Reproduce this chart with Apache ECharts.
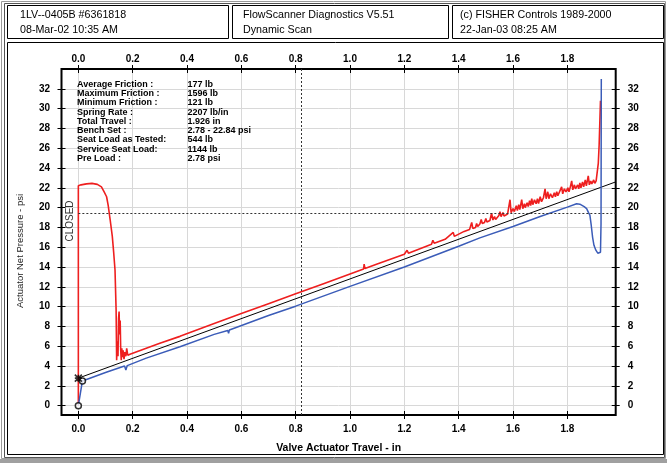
<!DOCTYPE html>
<html><head><meta charset="utf-8">
<script src="https://cdn.jsdelivr.net/npm/echarts@6/dist/echarts.min.js"></script>
<style>html,body{margin:0;padding:0;background:#fff}#c{width:667px;height:465px}</style>
</head><body><div id="c"></div>
<script>
// ---------- data ----------
const headerLeft = ['1LV--0405B #6361818', '08-Mar-02 10:35 AM'];
const headerMid = ['FlowScanner Diagnostics V5.51', 'Dynamic Scan'];
const headerRight = ['(c) FISHER Controls 1989-2000', '22-Jan-03 08:25 AM'];

const infoLabels = ['Average Friction :', 'Maximum Friction :', 'Minimum Friction :', 'Spring Rate :', 'Total Travel :', 'Bench Set :', 'Seat Load as Tested:', 'Service Seat Load:', 'Pre Load :'];
const infoValues = ['177 lb', '1596 lb', '121 lb', '2207 lb/in', '1.926 in', '2.78 - 22.84 psi', '544 lb', '1144 lb', '2.78 psi'];

const xTickValues = [0, 0.2, 0.4, 0.6, 0.8, 1.0, 1.2, 1.4, 1.6, 1.8];
const yTickValues = [0, 2, 4, 6, 8, 10, 12, 14, 16, 18, 20, 22, 24, 26, 28, 30, 32];

const xTitle = 'Valve Actuator Travel - in';
const yTitle = 'Actuator Net Pressure - psi';
const closedLabel = 'CLOSED';
const closedTravel = 0.816;
const closedPressure = 19.4;

// red trace (travel in, pressure psi)
const redTrace = [
  [0.000, 0.0], [0.000, 22.2], [0.010, 22.3], [0.030, 22.4], [0.050, 22.45], [0.070, 22.35], [0.085, 22.1],
  [0.095, 21.6], [0.104, 21.1], [0.110, 20.2], [0.117, 18.8], [0.125, 17.1], [0.130, 15.5], [0.135, 13.7],
  [0.139, 9.7], [0.141, 4.6], [0.143, 6.5], [0.146, 5.0], [0.148, 8.8], [0.150, 9.5], [0.152, 7.2],
  [0.154, 8.6], [0.156, 5.6], [0.158, 4.6], [0.160, 5.8], [0.162, 4.9], [0.165, 5.6], [0.168, 4.7],
  [0.171, 5.4], [0.175, 5.0], [0.178, 5.8], [0.182, 5.1], [0.190, 5.2], [0.196, 5.3],
  [0.300, 6.3], [0.374, 7.0], [0.500, 8.3], [0.600, 9.3], [0.700, 10.3], [0.800, 11.3], [0.900, 12.3],
  [1.000, 13.3], [1.050, 13.8], [1.052, 14.3], [1.055, 13.85], [1.100, 14.3], [1.200, 15.3], [1.210, 15.7],
  [1.215, 15.4], [1.300, 16.3], [1.305, 16.7], [1.310, 16.4], [1.350, 16.8], [1.380, 17.5], [1.384, 17.1],
  [1.420, 17.6], [1.440, 17.8], [1.448, 18.5], [1.452, 17.9], [1.462, 18.0], [1.466, 18.4], [1.470, 18.1],
  [1.478, 18.35], [1.483, 18.8], [1.487, 18.4], [1.495, 18.5], [1.500, 18.9], [1.504, 18.55], [1.510, 18.65],
  [1.515, 18.7], [1.521, 19.45], [1.526, 18.75], [1.532, 19.1], [1.536, 18.8], [1.540, 18.9], [1.548, 19.2],
  [1.552, 19.6], [1.556, 19.1], [1.563, 19.5], [1.567, 19.15], [1.574, 19.25], [1.580, 19.35], [1.585, 19.5],
  [1.589, 20.8], [1.593, 19.5], [1.600, 19.9], [1.605, 19.6], [1.612, 20.2], [1.616, 19.7], [1.621, 20.3],
  [1.625, 19.8], [1.632, 20.8], [1.636, 19.9], [1.642, 20.4], [1.645, 20.0], [1.652, 20.5], [1.656, 20.1],
  [1.661, 20.7], [1.665, 20.2], [1.669, 20.9], [1.673, 20.3], [1.679, 20.8], [1.685, 20.4], [1.690, 20.9],
  [1.694, 20.4], [1.700, 21.1], [1.705, 20.6], [1.712, 21.0], [1.718, 21.9], [1.722, 20.9], [1.728, 21.6],
  [1.732, 20.9], [1.738, 21.4], [1.745, 21.0], [1.752, 21.5], [1.756, 21.1], [1.761, 21.6], [1.765, 21.2],
  [1.772, 21.4], [1.779, 22.1], [1.783, 21.4], [1.789, 21.9], [1.795, 21.6], [1.802, 22.0], [1.806, 21.6],
  [1.811, 22.1], [1.816, 22.7], [1.820, 21.8], [1.826, 22.3], [1.830, 21.9], [1.838, 22.3], [1.842, 21.9],
  [1.846, 22.5], [1.850, 22.0], [1.856, 22.6], [1.860, 22.1], [1.866, 22.8], [1.870, 22.2], [1.877, 23.2],
  [1.881, 22.3], [1.886, 22.7], [1.890, 22.4], [1.897, 22.8], [1.901, 22.45], [1.906, 22.7], [1.912, 22.6],
  [1.914, 24.5], [1.917, 26.3], [1.921, 26.3], [1.922, 30.8]
];

// blue trace
const blueTrace = [
  [0.000, 0.0], [0.015, 2.5], [0.100, 3.35], [0.170, 4.0], [0.175, 3.6], [0.180, 4.05], [0.250, 4.8],
  [0.374, 5.96], [0.500, 7.2], [0.550, 7.6], [0.553, 7.3], [0.556, 7.65], [0.700, 9.1], [0.800, 10.05],
  [1.000, 12.05], [1.200, 14.0], [1.400, 16.1], [1.478, 16.95], [1.600, 18.1], [1.700, 19.1], [1.800, 20.05],
  [1.834, 20.4], [1.846, 20.35], [1.853, 20.26], [1.862, 20.1], [1.871, 19.9], [1.878, 19.5], [1.883, 19.25],
  [1.888, 18.2], [1.893, 17.0], [1.898, 16.2], [1.905, 15.7], [1.912, 15.4], [1.918, 15.3], [1.922, 15.5],
  [1.924, 18.4], [1.925, 33.0]
];

// bench-set reference line
const benchLine = [[0.0, 2.78], [1.978, 22.6]];
const startMarkers = [[0.0, 0.0], [0.015, 2.5]];
const preloadMarker = [[0.0, 2.78]];

// ---------- layout ----------
const XMIN = -0.062, XMAX = 1.978, YMIN = -0.94, YMAX = 34.0;
const FONT = 'Liberation Sans';
const RED = '#ee1f1f', BLUE = '#3b5cb8';

const axisFont = { fontFamily: FONT, fontSize: 10, fontWeight: 'bold', color: '#000' };

function xAx(pos, margin, extra) {
  return Object.assign({
    type: 'value', position: pos, min: XMIN, max: XMAX, offset: -4,
    axisLine: { show: true, onZero: false, lineStyle: { color: 'rgba(0,0,0,0)' } },
    axisTick: { show: true, customValues: xTickValues, length: 8, inside: false, lineStyle: { color: '#000', width: 1 } },
    axisLabel: Object.assign({ show: true, customValues: xTickValues, margin: margin, formatter: v => v.toFixed(1) }, axisFont),
    splitLine: { show: false }
  }, extra || {});
}
function yAx(pos, margin, extra) {
  return Object.assign({
    type: 'value', position: pos, min: YMIN, max: YMAX, offset: -4,
    axisLine: { show: true, onZero: false, lineStyle: { color: 'rgba(0,0,0,0)' } },
    axisTick: { show: true, customValues: yTickValues, length: 8, inside: false, lineStyle: { color: '#000', width: 1 } },
    axisLabel: Object.assign({ show: true, customValues: yTickValues, margin: margin, formatter: v => String(v) }, axisFont),
    splitLine: { show: false }
  }, extra || {});
}

const chart = echarts.init(document.getElementById('c'), null, { renderer: 'canvas' });

const hdrStyle = (t) => ({ text: t.join('\n'), fontFamily: FONT, fontSize: 10.7, fill: '#000', lineHeight: 15, verticalAlign: 'top', align: 'left' });

chart.setOption({
  animation: false,
  backgroundColor: '#fff',
  grid: { left: 61.5, right: 51.3, top: 69, bottom: 50, show: true, borderColor: '#000', borderWidth: 2, backgroundColor: 'rgba(0,0,0,0)', z: 5 },
  xAxis: [
    xAx('bottom', 13, {
      splitLine: { show: true, lineStyle: { color: '#d8d8d8', width: 1 } },
      name: xTitle, nameLocation: 'middle', nameGap: 32,
      nameTextStyle: { fontFamily: FONT, fontSize: 10.5, fontWeight: 'bold', color: '#000' }
    }),
    xAx('top', 9)
  ],
  yAxis: [
    yAx('left', 15.5, { splitLine: { show: true, lineStyle: { color: '#d8d8d8', width: 1 } } }),
    yAx('right', 16)
  ],
  graphic: [
    { type: 'rect', z: 0, shape: { x: 1.5, y: 1.5, width: 664, height: 457 }, style: { fill: 'none', stroke: '#9a9a9a', lineWidth: 1 } },
    { type: 'rect', z: 0, shape: { x: 4.5, y: 3.5, width: 660, height: 454 }, style: { fill: 'none', stroke: '#555', lineWidth: 1 } },
    { type: 'rect', z: 0, shape: { x: 0, y: 459, width: 667, height: 4 }, style: { fill: '#a0a0a0' } },
    { type: 'rect', z: 0, shape: { x: 7.5, y: 5.5, width: 221, height: 33 }, style: { fill: 'none', stroke: '#000', lineWidth: 1 } },
    { type: 'rect', z: 0, shape: { x: 232.5, y: 5.5, width: 216, height: 33 }, style: { fill: 'none', stroke: '#000', lineWidth: 1 } },
    { type: 'rect', z: 0, shape: { x: 452.5, y: 5.5, width: 211, height: 33 }, style: { fill: 'none', stroke: '#000', lineWidth: 1 } },
    { type: 'rect', z: 0, shape: { x: 7.5, y: 42.5, width: 656, height: 412 }, style: { fill: 'none', stroke: '#000', lineWidth: 1 } },
    { type: 'text', z: 10, x: 20, y: 8, style: hdrStyle(headerLeft) },
    { type: 'text', z: 10, x: 243, y: 8, style: hdrStyle(headerMid) },
    { type: 'text', z: 10, x: 460, y: 8, style: hdrStyle(headerRight) },
    { type: 'text', z: 10, x: 77, y: 79.5, style: { text: infoLabels.join('\n'), fontFamily: FONT, fontSize: 9, fontWeight: 'bold', fill: '#000', lineHeight: 9.3, verticalAlign: 'top', align: 'left' } },
    { type: 'text', z: 10, x: 187.5, y: 79.5, style: { text: infoValues.join('\n'), fontFamily: FONT, fontSize: 9, fontWeight: 'bold', fill: '#000', lineHeight: 9.3, verticalAlign: 'top', align: 'left' } },
    { type: 'text', z: 10, x: 70, y: 221, rotation: Math.PI / 2, style: { text: closedLabel, fontFamily: FONT, fontSize: 10, fill: '#333', align: 'center', verticalAlign: 'middle' } },
    { type: 'text', z: 10, x: 20, y: 251, rotation: Math.PI / 2, style: { text: yTitle, fontFamily: FONT, fontSize: 9.5, fill: '#222', align: 'center', verticalAlign: 'middle' } }
  ],
  series: [
    {
      name: 'closed', type: 'line', data: [], z: 2, silent: true,
      markLine: {
        silent: true, symbol: ['none', 'none'], label: { show: false },
        lineStyle: { color: '#333', type: [2, 2], width: 1 },
        data: [
          { xAxis: closedTravel },
          [{ coord: [0, closedPressure] }, { coord: [XMAX, closedPressure] }]
        ]
      }
    },
    { name: 'red', type: 'line', data: redTrace, symbol: 'none', lineStyle: { color: RED, width: 1.6 }, z: 3, clip: true },
    { name: 'bench', type: 'line', data: benchLine, symbol: 'none', lineStyle: { color: '#000', width: 1 }, z: 3, clip: true },
    { name: 'blue', type: 'line', data: blueTrace, symbol: 'none', lineStyle: { color: BLUE, width: 1.5 }, z: 4, clip: true },
    { name: 'start', type: 'scatter', data: startMarkers, symbol: 'circle', symbolSize: 6, itemStyle: { color: '#fff', borderColor: '#000', borderWidth: 1.5 }, z: 6 },
    { name: 'preload', type: 'scatter', data: preloadMarker, symbol: 'path://M0,0L10,10M10,0L0,10M5,0L5,10M0,5L10,5', symbolSize: 7, itemStyle: { color: 'rgba(0,0,0,0)', borderColor: '#000', borderWidth: 1.6 }, z: 6 }
  ]
});
</script></body></html>
